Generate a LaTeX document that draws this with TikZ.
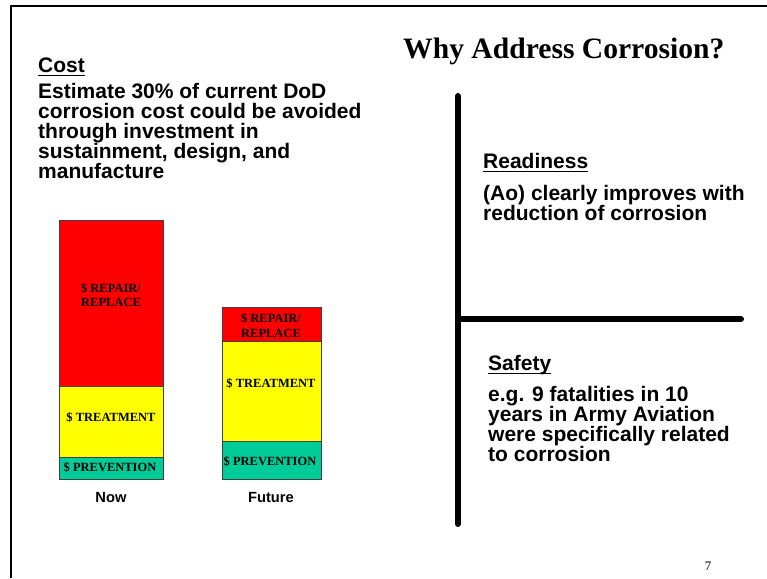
\documentclass[tikz,border=0pt]{standalone}
\usepackage{fontspec}
\setmainfont{Liberation Serif}
\setsansfont{Liberation Sans}
\usetikzlibrary{positioning}

\definecolor{barred}{HTML}{FF0000}
\definecolor{baryellow}{HTML}{FFFF00}
\definecolor{bargreen}{HTML}{00CC99}

\begin{document}
\begin{tikzpicture}[x=1pt,y=-1pt,
	head/.style={font=\sffamily\bfseries\fontsize{21}{24}\selectfont,anchor=base west,inner sep=0pt},
	body/.style={font=\sffamily\bfseries\fontsize{21}{20}\selectfont,anchor=base west,align=left,inner sep=0pt},
	seg/.style={draw=black!75,line width=0.8pt},
	seglabel/.style={font=\rmfamily\bfseries\fontsize{12.5}{14.5}\selectfont,align=center,inner sep=0pt},
	barname/.style={font=\sffamily\bfseries\fontsize{14.7}{16}\selectfont,inner sep=0pt},
	rule/.style={line width=6pt,line cap=round}]
	\useasboundingbox (0,0) rectangle (767,578);
	\draw[line width=2.5pt] (11,578) -- (11,6) -- (767,6);

	\node[font=\rmfamily\bfseries\fontsize{29.6}{32}\selectfont,anchor=base west,inner sep=0pt] (title) at (403,58) {Why Address Corrosion?};

	\node[head] (cost) at (38,72) {Cost};
	\draw[line width=1.8pt] ([yshift=-3.5pt]cost.base west) -- ([yshift=-3.5pt]cost.base east);
	\node[body] (costtext) at (38,178.5) {Estimate 30\% of current DoD\\corrosion cost could be avoided\\through investment in\\sustainment, design, and\\manufacture};

	\draw[seg,fill=barred] (59,220) rectangle (163,386);
	\draw[seg,fill=baryellow] (59,386) rectangle (163,457);
	\draw[seg,fill=bargreen] (59,457) rectangle (163,479);
	\node[seglabel] (nowrep) at (111,295) {\$ REPAIR/\\REPLACE};
	\node[seglabel] (nowtreat) at (111,417) {\$ TREATMENT};
	\node[seglabel] (nowprev) at (110,467) {\$ PREVENTION};
	\coordinate (nowfoot) at (111,479);
	\node[barname,below=13pt of nowfoot] (now) {Now};

	\draw[seg,fill=barred] (222,307) rectangle (321,341);
	\draw[seg,fill=baryellow] (222,341) rectangle (321,441);
	\draw[seg,fill=bargreen] (222,441) rectangle (321,479);
	\node[seglabel] (futrep) at (271,325.5) {\$ REPAIR/\\REPLACE};
	\node[seglabel] (futtreat) at (271,383) {\$ TREATMENT};
	\node[seglabel] (futprev) at (270,461) {\$ PREVENTION};
	\coordinate (futfoot) at (271,479);
	\node[barname,below=13pt of futfoot] (future) {Future};

	\coordinate (vtop) at (458,96);
	\coordinate (vbot) at (458,524);
	\coordinate (hleft) at (458,319);
	\coordinate (hright) at (741,319);
	\draw[rule] (vtop) -- (vbot);
	\draw[rule] (hleft) -- (hright);

	\node[head] (ready) at (483,168) {Readiness};
	\draw[line width=1.8pt] ([yshift=-3.5pt]ready.base west) -- ([yshift=-3.5pt]ready.base east);
	\node[body] (readytext) at (483,220.5) {(Ao) clearly improves with\\reduction of corrosion};

	\node[head] (safety) at (488,370) {Safety};
	\draw[line width=1.8pt] ([yshift=-3.5pt]safety.base west) -- ([yshift=-3.5pt]safety.base east);
	\node[body] (safetytext) at (488,461.5) {e.g. 9 fatalities in 10\\years in Army Aviation\\were specifically related\\to corrosion};

	\node[font=\rmfamily\fontsize{13}{13}\selectfont,anchor=base,inner sep=0pt] (page) at (708,570) {7};
\end{tikzpicture}
\end{document}
